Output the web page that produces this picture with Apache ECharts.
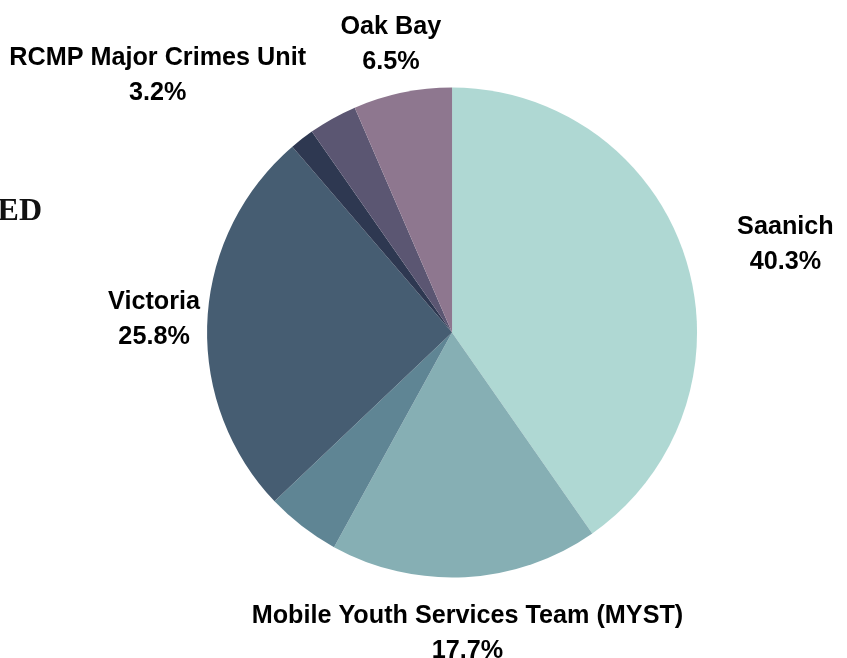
<!DOCTYPE html>
<html>
<head>
<meta charset="utf-8">
<script src="https://cdn.jsdelivr.net/npm/echarts@6/dist/echarts.min.js"></script>
<style>
html,body{margin:0;padding:0;background:#fff;}
#chart{width:847px;height:658px;}
</style>
</head>
<body>
<div id="chart"></div>
<script>
// ---- data ----
var categories = ['Saanich', 'Mobile Youth Services Team (MYST)', 'Unlabeled A', 'Victoria', 'Unlabeled B', 'RCMP Major Crimes Unit', 'Oak Bay'];
var values = [40.3, 17.7, 4.9, 25.8, 1.6, 3.2, 6.5];
var showLabel = [true, true, false, true, false, true, true];

// ---- styles ----
var colors = ['#afd8d3', '#86afb4', '#5f8594', '#465d72', '#2e3851', '#5b5672', '#8e778f'];
var lineLen = [55.7, 53.7, 50, 71, 50, 51.8, 52.1];
var lineLen2 = [-6.8, -221.3, 0, -68.6, 0, -3.6, -54.5];
var FONT = '"Liberation Sans", Arial, sans-serif';

var pieData = categories.map(function (name, i) {
  return {
    name: name,
    value: values[i],
    itemStyle: { color: colors[i] },
    label: { show: showLabel[i] },
    labelLine: { show: false, length: lineLen[i], length2: lineLen2[i] }
  };
});

var chart = echarts.init(document.getElementById('chart'), null, { renderer: 'canvas' });
chart.setOption({
  backgroundColor: '#ffffff',
  animation: false,
  graphic: [{
    type: 'text',
    x: 42,
    y: 212,
    style: {
      text: 'ED',
      textAlign: 'right',
      textVerticalAlign: 'middle',
      font: 'bold 32px "Liberation Serif", "DejaVu Serif", serif',
      fill: '#111111'
    }
  }],
  series: [{
    type: 'pie',
    center: ['53.37%', '50.53%'],
    radius: 245,
    startAngle: 90,
    clockwise: true,
    avoidLabelOverlap: false,
    itemStyle: { borderWidth: 0 },
    label: {
      show: true,
      position: 'outside',
      padding: [5, 0, 0, 0],
      formatter: function (p) {
        return '{a|' + p.name + '}\n{a|' + p.value.toFixed(1) + '%}';
      },
      fontFamily: FONT,
      fontSize: 25,
      fontWeight: 'bold',
      color: '#000',
      lineHeight: 35,
      rich: {
        a: { align: 'center', fontFamily: FONT, fontSize: 25.2, fontWeight: 'bold', color: '#000', lineHeight: 35 }
      }
    },
    labelLine: { show: false },
    emphasis: { disabled: true },
    data: pieData
  }]
});
</script>
</body>
</html>
